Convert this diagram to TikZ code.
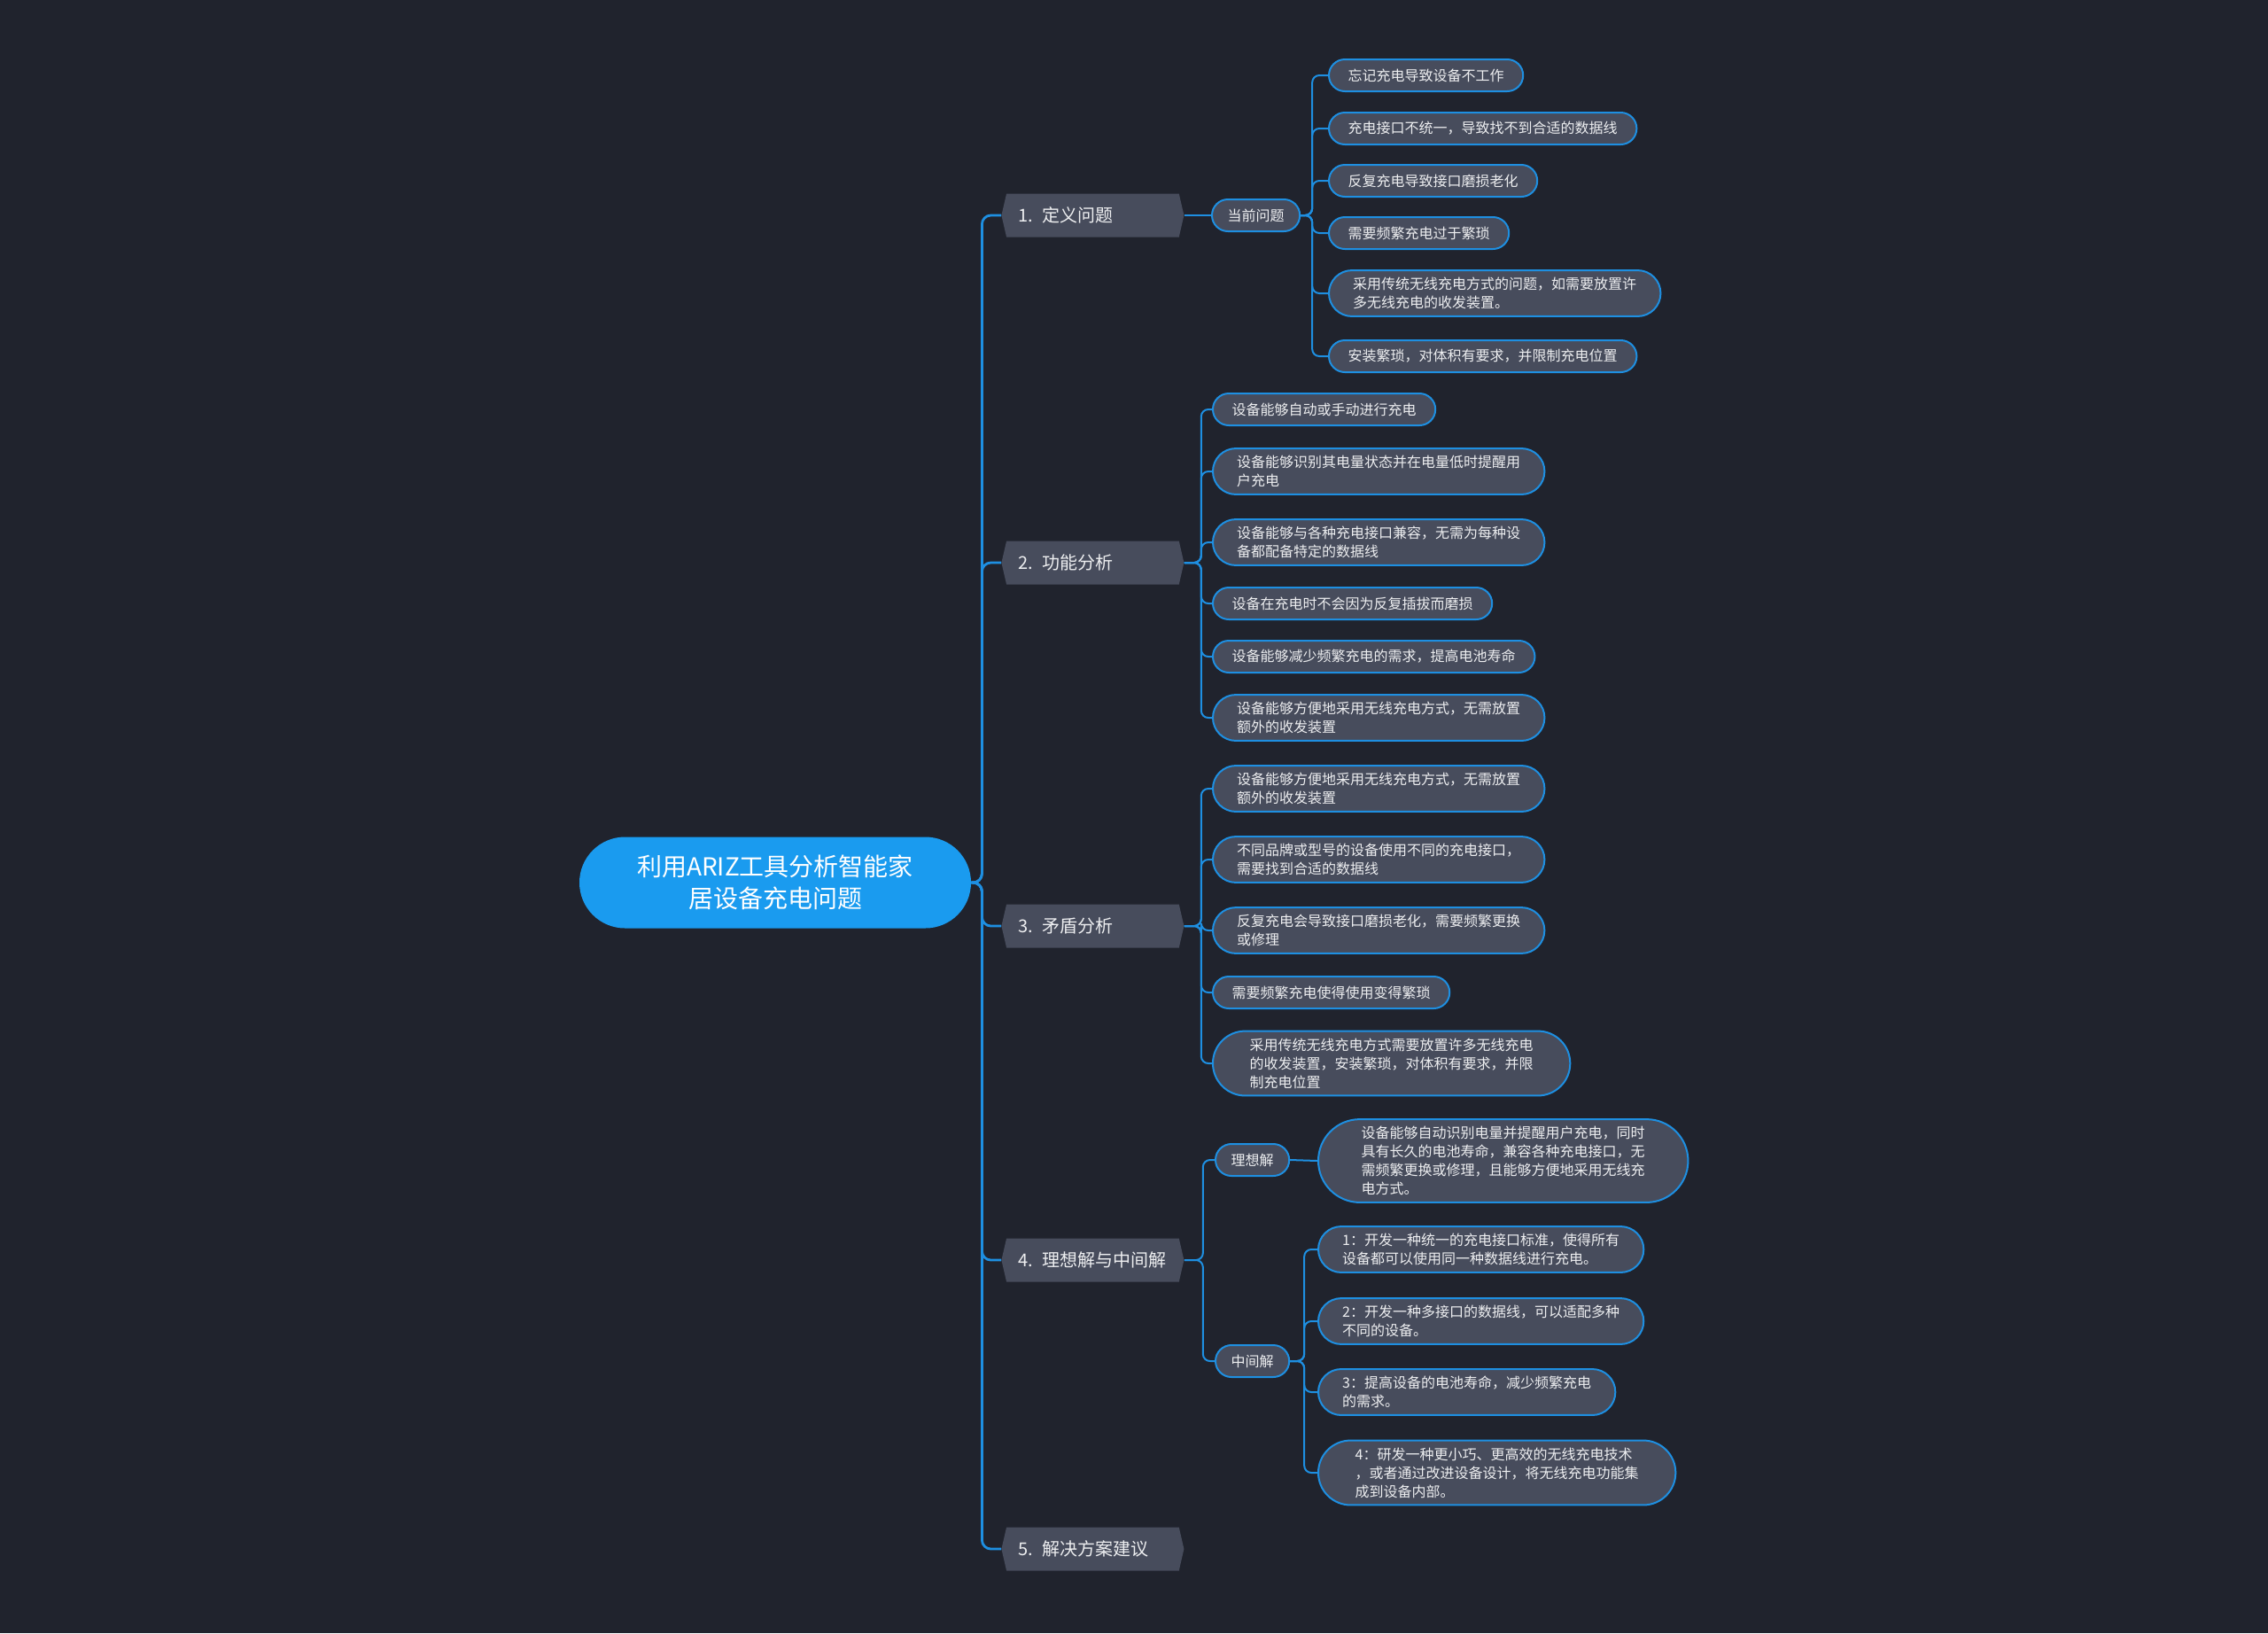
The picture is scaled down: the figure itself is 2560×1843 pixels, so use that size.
\documentclass[tikz,border=0pt]{standalone}
\usepackage{fontspec}
\setmainfont{Noto Sans CJK SC}
\usepackage{tikz}
\usetikzlibrary{shapes.misc,shapes.symbols}
\definecolor{bgdark}{HTML}{20232D}
\definecolor{rootblue}{HTML}{1A9BEF}
\definecolor{lineblue}{HTML}{1E8FE1}
\definecolor{nodegray}{HTML}{474C5C}
\definecolor{textwhite}{HTML}{EDEEF0}

\begin{document}
\begin{tikzpicture}
[x=0.5pt,y=-0.5pt,
 root/.style={rounded rectangle,fill=rootblue,text=white,font=\fontsize{14}{18}\selectfont,align=center,minimum width=225pt,minimum height=51.5pt,inner xsep=2pt},
 topic/.style={signal,signal to=east and west,signal pointer angle=154,fill=nodegray,text=textwhite,font=\fontsize{10}{12}\selectfont,minimum width=103pt,minimum height=24.5pt,text width=84pt,align=left,inner sep=0pt,anchor=west},
 sub/.style={rounded rectangle,draw=lineblue,line width=1pt,fill=nodegray,text=textwhite,font=\fontsize{8}{10}\selectfont,minimum height=18pt,inner xsep=8pt,anchor=west},
 leaf/.style={rounded rectangle,draw=lineblue,line width=1pt,fill=nodegray,text=textwhite,font=\fontsize{8}{10.5}\selectfont,align=left,inner xsep=10pt,inner ysep=4pt,minimum height=18pt,anchor=west},
 tall/.style={leaf,inner xsep=14pt},
 spine/.style={draw=lineblue,line width=1.4pt,rounded corners=5pt},
 twig/.style={draw=lineblue,line width=1pt,rounded corners=4pt},
 fork path/.style={to path={-- ++(#1,0) |- (\tikztotarget)}}]
\fill[bgdark] (0,0) rectangle (2560,1843);
% centre and main topics
\node[root] (root) at (875,996) {利用ARIZ工具分析智能家\\居设备充电问题};
\node[topic] (t1) at (1130,243)  {1. 定义问题};
\node[topic] (t2) at (1130,635)  {2. 功能分析};
\node[topic] (t3) at (1130,1045) {3. 矛盾分析};
\node[topic] (t4) at (1130,1422) {4. 理想解与中间解};
\node[topic] (t5) at (1130,1748) {5. 解决方案建议};
% 1
\node[sub] (s1) at (1367,243) {当前问题};
\node[leaf] (a1) at (1499,85)  {忘记充电导致设备不工作};
\node[leaf] (a2) at (1499,145) {充电接口不统一，导致找不到合适的数据线};
\node[leaf] (a3) at (1499,204) {反复充电导致接口磨损老化};
\node[leaf] (a4) at (1499,263) {需要频繁充电过于繁琐};
\node[leaf] (a5) at (1499,331) {采用传统无线充电方式的问题，如需要放置许\\多无线充电的收发装置。};
\node[leaf] (a6) at (1499,402) {安装繁琐，对体积有要求，并限制充电位置};
% 2
\node[leaf] (b1) at (1368,462) {设备能够自动或手动进行充电};
\node[leaf] (b2) at (1368,532) {设备能够识别其电量状态并在电量低时提醒用\\户充电};
\node[leaf] (b3) at (1368,612) {设备能够与各种充电接口兼容，无需为每种设\\备都配备特定的数据线};
\node[leaf] (b4) at (1368,681) {设备在充电时不会因为反复插拔而磨损};
\node[leaf] (b5) at (1368,741) {设备能够减少频繁充电的需求，提高电池寿命};
\node[leaf] (b6) at (1368,810) {设备能够方便地采用无线充电方式，无需放置\\额外的收发装置};
% 3
\node[leaf] (c1) at (1368,890)  {设备能够方便地采用无线充电方式，无需放置\\额外的收发装置};
\node[leaf] (c2) at (1368,970)  {不同品牌或型号的设备使用不同的充电接口，\\需要找到合适的数据线};
\node[leaf] (c3) at (1368,1050) {反复充电会导致接口磨损老化，需要频繁更换\\或修理};
\node[leaf] (c4) at (1368,1120) {需要频繁充电使得使用变得繁琐};
\node[tall] (c5) at (1368,1200) {采用传统无线充电方式需要放置许多无线充电\\的收发装置，安装繁琐，对体积有要求，并限\\制充电位置};
% 4
\node[sub] (s41) at (1371,1309) {理想解};
\node[sub] (s42) at (1371,1536) {中间解};
\node[tall] (d0) at (1487,1310) {设备能够自动识别电量并提醒用户充电，同时\\具有长久的电池寿命，兼容各种充电接口，无\\需频繁更换或修理，且能够方便地采用无线充\\电方式。};
\node[leaf] (d1) at (1487,1410) {1：开发一种统一的充电接口标准，使得所有\\设备都可以使用同一种数据线进行充电。};
\node[leaf] (d2) at (1487,1491) {2：开发一种多接口的数据线，可以适配多种\\不同的设备。};
\node[leaf] (d3) at (1487,1571) {3：提高设备的电池寿命，减少频繁充电\\的需求。};
\node[tall] (d4) at (1487,1662) {4：研发一种更小巧、更高效的无线充电技术\\，或者通过改进设备设计，将无线充电功能集\\成到设备内部。};
% connectors
\path (root.east) edge[spine,fork path=12] (t1.west)
                  edge[spine,fork path=12] (t2.west)
                  edge[spine,fork path=12] (t3.west)
                  edge[spine,fork path=12] (t4.west)
                  edge[spine,fork path=12] (t5.west);
\path (t1.east) edge[twig] (s1.west)
      (s1.east) edge[twig,fork path=13] (a1.west)
                edge[twig,fork path=13] (a2.west)
                edge[twig,fork path=13] (a3.west)
                edge[twig,fork path=13] (a4.west)
                edge[twig,fork path=13] (a5.west)
                edge[twig,fork path=13] (a6.west);
\path (t2.east) edge[twig,fork path=19] (b1.west)
                edge[twig,fork path=19] (b2.west)
                edge[twig,fork path=19] (b3.west)
                edge[twig,fork path=19] (b4.west)
                edge[twig,fork path=19] (b5.west)
                edge[twig,fork path=19] (b6.west);
\path (t3.east) edge[twig,fork path=19] (c1.west)
                edge[twig,fork path=19] (c2.west)
                edge[twig,fork path=19] (c3.west)
                edge[twig,fork path=19] (c4.west)
                edge[twig,fork path=19] (c5.west);
\path (t4.east) edge[twig,fork path=21] (s41.west)
                edge[twig,fork path=21] (s42.west)
      (s41.east) edge[twig] (d0.west)
      (s42.east) edge[twig,fork path=16] (d1.west)
                 edge[twig,fork path=16] (d2.west)
                 edge[twig,fork path=16] (d3.west)
                 edge[twig,fork path=16] (d4.west);
\end{tikzpicture}
\end{document}
